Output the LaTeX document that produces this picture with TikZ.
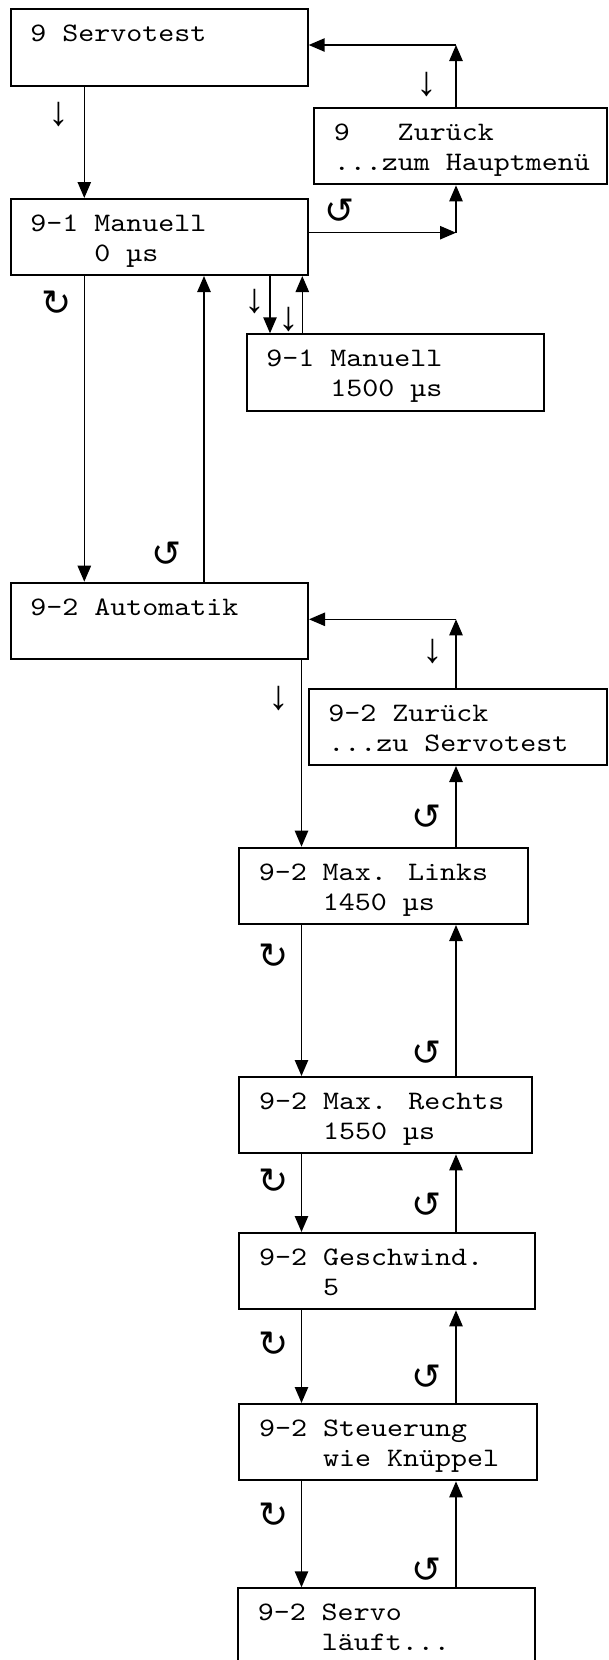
\documentclass[tikz,border=0pt]{standalone}
\usepackage{fontspec}
\newfontfamily\monof{lmmono10-regular.otf}[FakeStretch=1.143]
\newfontfamily\arrf{Liberation Mono}
\newfontfamily\symf{DejaVu Sans}
\usetikzlibrary{arrows.meta,fit,calc}
\tikzset{
  box/.style={draw, line width=1.5pt, inner sep=0pt},
  txt/.style={font=\monof\fontsize{20}{22.5}\selectfont, inner sep=0pt, anchor=base west, align=left},
  arr/.style={-{Triangle[width=10pt,length=12pt]}, line width=1.15pt},
  dn/.style={font=\arrf\fontsize{31}{31}\selectfont, inner sep=0pt},
  rot/.style={font=\symf\fontsize{27}{27}\selectfont, inner sep=0pt}
}
\begin{document}
\begin{tikzpicture}[x=0.75pt,y=-0.75pt]
\useasboundingbox (0,0) rectangle (608,1660);
% boxes
\node[box, fit={(10.7,9.3) (307.7,85.7)}] (A) {};
\node[box, fit={(314,107.7) (606.7,184.3)}] (B) {};
\node[box, fit={(10.7,199) (307.7,275)}] (C) {};
\node[box, fit={(246.7,334.3) (543.7,410.7)}] (D) {};
\node[box, fit={(10.7,582.7) (308,659.3)}] (E) {};
\node[box, fit={(308.7,688.7) (606.7,765)}] (F) {};
\node[box, fit={(239,847.7) (527.7,924)}] (G) {};
\node[box, fit={(239.3,1077) (532.3,1153.3)}] (H) {};
\node[box, fit={(239.3,1233) (534.7,1309.3)}] (I) {};
\node[box, fit={(239.3,1404) (536.7,1480.3)}] (J) {};
\node[box, fit={(238,1588.3) (535,1664.3)}] (K) {};
% texts (base anchor = last line's baseline)
\node[txt] (tA) at ([shift={(20.5,33.5)}]A.north west) {9 Servotest};
\node[txt] (tB) at ([shift={(20.5,63.5)}]B.north west) {9\hphantom{000}Zurück\\...zum Hauptmenü};
\node[txt] (tC) at ([shift={(20.5,63.5)}]C.north west) {9-1 Manuell\\\hphantom{0000}0 µs};
\node[txt] (tD) at ([shift={(20.5,63.5)}]D.north west) {9-1 Manuell\\\hphantom{0000}1500 µs};
\node[txt] (tE) at ([shift={(20.5,33.5)}]E.north west) {9-2 Automatik};
\node[txt] (tF) at ([shift={(20.5,63.5)}]F.north west) {9-2 Zurück\\...zu Servotest};
\node[txt] (tG) at ([shift={(20.5,63.5)}]G.north west) {9-2 Max. Links\\\hphantom{0000}1450 µs};
\node[txt] (tH) at ([shift={(20.5,63.5)}]H.north west) {9-2 Max. Rechts\\\hphantom{0000}1550 µs};
\node[txt] (tI) at ([shift={(20.5,63.5)}]I.north west) {9-2 Geschwind.\\\hphantom{0000}5};
\node[txt] (tJ) at ([shift={(20.5,63.5)}]J.north west) {9-2 Steuerung\\\hphantom{0000}wie Knüppel};
\node[txt] (tK) at ([shift={(20.5,63.5)}]K.north west) {9-2 Servo\\\hphantom{0000}läuft...};
% column coordinates
\coordinate (x1) at (84.3,0);
\coordinate (x2) at (204,0);
\coordinate (x3) at (270,0);
\coordinate (x4) at (302.3,0);
\coordinate (x6) at (301.5,0);
\coordinate (xR) at (456,0);
\coordinate (cB1) at (456,45);
\coordinate (cB2) at (456,232.7);
\coordinate (cE) at (456,619.3);
% connectors
\draw[arr] (x1 |- A.south) -- (x1 |- C.north);
\draw[arr] (B.north -| cB1) -- (cB1);
\draw[arr] (cB1) -- (A.east |- cB1);
\draw[arr] (C.east |- cB2) -- (cB2);
\draw[arr] (cB2) -- (B.south -| cB2);
\draw[arr] (x1 |- C.south) -- (x1 |- E.north);
\draw[arr] (x2 |- E.north) -- (x2 |- C.south);
\draw[arr] (x3 |- C.south) -- (x3 |- D.north);
\draw[arr] (x4 |- D.north) -- (x4 |- C.south);
\draw[arr] (F.north -| cE) -- (cE);
\draw[arr] (cE) -- (E.east |- cE);
\draw[arr] (x6 |- E.south) -- (x6 |- G.north);
\draw[arr] (xR |- G.north) -- (xR |- F.south);
\draw[arr] (x6 |- G.south) -- (x6 |- H.north);
\draw[arr] (xR |- H.north) -- (xR |- G.south);
\draw[arr] (x6 |- H.south) -- (x6 |- I.north);
\draw[arr] (xR |- I.north) -- (xR |- H.south);
\draw[arr] (x6 |- I.south) -- (x6 |- J.north);
\draw[arr] (xR |- J.north) -- (xR |- I.south);
\draw[arr] (x6 |- J.south) -- (x6 |- K.north);
\draw[arr] (xR |- K.north) -- (xR |- J.south);
% small down arrows
\node[dn] (d1) at (58.7,114) {↓};
\node[dn] (d2) at (427,84) {↓};
\node[dn] (d3) at (255,301) {↓};
\node[dn] (d4) at (289.3,319.5) {↓};
\node[dn] (d5) at (433.3,651) {↓};
\node[dn] (d6) at (279.3,698) {↓};
% rotation symbols
\node[rot] (r1) at (56.7,303.3) {↻};
\node[rot] (r2) at (273.3,956.7) {↻};
\node[rot] (r3) at (273.3,1181.7) {↻};
\node[rot] (r4) at (273.3,1344) {↻};
\node[rot] (r5) at (273.3,1515) {↻};
\node[rot] (l1) at (340,211.7) {↺};
\node[rot] (l2) at (166.7,554.3) {↺};
\node[rot] (l3) at (426.7,817.7) {↺};
\node[rot] (l4) at (426.7,1053.3) {↺};
\node[rot] (l5) at (426.7,1205) {↺};
\node[rot] (l6) at (426.7,1377.3) {↺};
\node[rot] (l7) at (426.7,1570) {↺};
\end{tikzpicture}
\end{document}
